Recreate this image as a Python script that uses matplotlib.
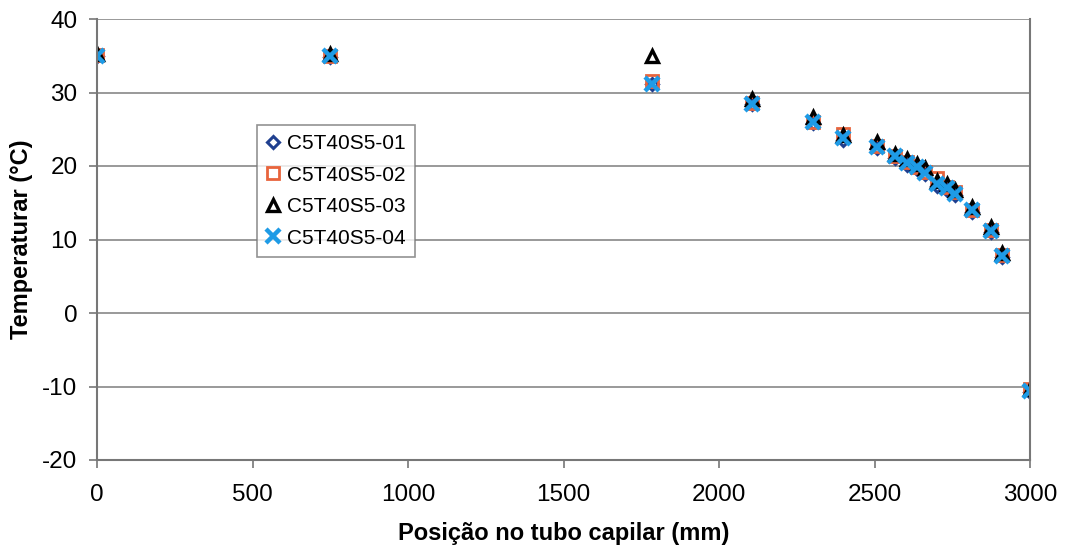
import matplotlib.pyplot as plt
import numpy as np

plt.rcParams['font.family'] = ['Liberation Sans', 'DejaVu Sans']
plt.rcParams['axes.unicode_minus'] = False

# posicao (mm) e temperaturas (C)
pos = [0, 750, 1785, 2105, 2302, 2400, 2508, 2566, 2604, 2636, 2662, 2700, 2732, 2759, 2814, 2874, 2910, 3000]
t01 = [35.0, 34.8, 31.2, 28.4, 25.8, 23.6, 22.4, 21.1, 20.2, 19.6, 18.9, 17.3, 16.8, 16.0, 13.8, 11.0, 7.6, -10.7]
t02 = [35.1, 35.0, 31.6, 28.6, 26.0, 24.4, 22.7, 21.4, 20.5, 19.9, 19.2, 18.3, 17.2, 16.4, 14.0, 11.3, 7.9, -10.4]
t03 = [35.3, 35.2, 35.0, 29.1, 26.6, 24.2, 23.2, 21.7, 20.9, 20.3, 19.7, 18.0, 17.5, 16.8, 14.4, 11.7, 8.2, -10.4]
t04 = [35.0, 34.9, 31.2, 28.5, 26.0, 23.8, 22.6, 21.3, 20.4, 19.8, 19.1, 17.6, 17.0, 16.2, 14.0, 11.2, 7.8, -10.6]
labels = ['C5T40S5-01', 'C5T40S5-02', 'C5T40S5-03', 'C5T40S5-04']

fig = plt.figure(figsize=(10.68, 5.54), dpi=100)
ax = fig.add_axes([97/1068, 1 - 460/554, 933/1068, 441/554])

ax.plot(pos, t01, linestyle='none', marker='D', ms=6, mfc='none', mec='#1f3f8f', mew=2.2, label=labels[0])
ax.plot(pos, t02, linestyle='none', marker='s', ms=9, mfc='none', mec='#e8643c', mew=2, label=labels[1])
ax.plot(pos, t03, linestyle='none', marker='^', ms=8, mfc='none', mec='black', mew=2.4, label=labels[2])
ax.plot(pos, t04, linestyle='none', marker='x', ms=10, mec='#1e9be6', mew=3.2, label=labels[3])

ax.set_xlim(0, 3000)
ax.set_ylim(-20, 40)
ax.set_xticks(np.arange(0, 3001, 500))
ax.set_yticks(np.arange(-20, 41, 10))
ax.yaxis.grid(True, color='#888888', lw=1.2)
ax.set_axisbelow(True)
for s in ax.spines.values():
    s.set_color('#777777')
    s.set_linewidth(1.5)
ax.spines['top'].set_visible(False)
ax.tick_params(labelsize=17.5, colors='#777777', labelcolor='black', length=6, width=1.2)
ax.tick_params(axis='x', pad=11)
ax.tick_params(axis='y', pad=8)

ax.set_xlabel('Posição no tubo capilar (mm)', fontsize=17, fontweight='bold', labelpad=12)
ax.set_ylabel('Temperaturar (°C)', fontsize=17, fontweight='bold', labelpad=7)

leg = ax.legend(loc='upper left', bbox_to_anchor=(0.171, 0.76), fontsize=15, frameon=True,
                fancybox=False, edgecolor='#777777', handlelength=0.7, handletextpad=0.3,
                borderpad=0.45, labelspacing=0.6, borderaxespad=0)
leg.get_frame().set_linewidth(1.2)

fig.savefig('out.png', dpi=100)
